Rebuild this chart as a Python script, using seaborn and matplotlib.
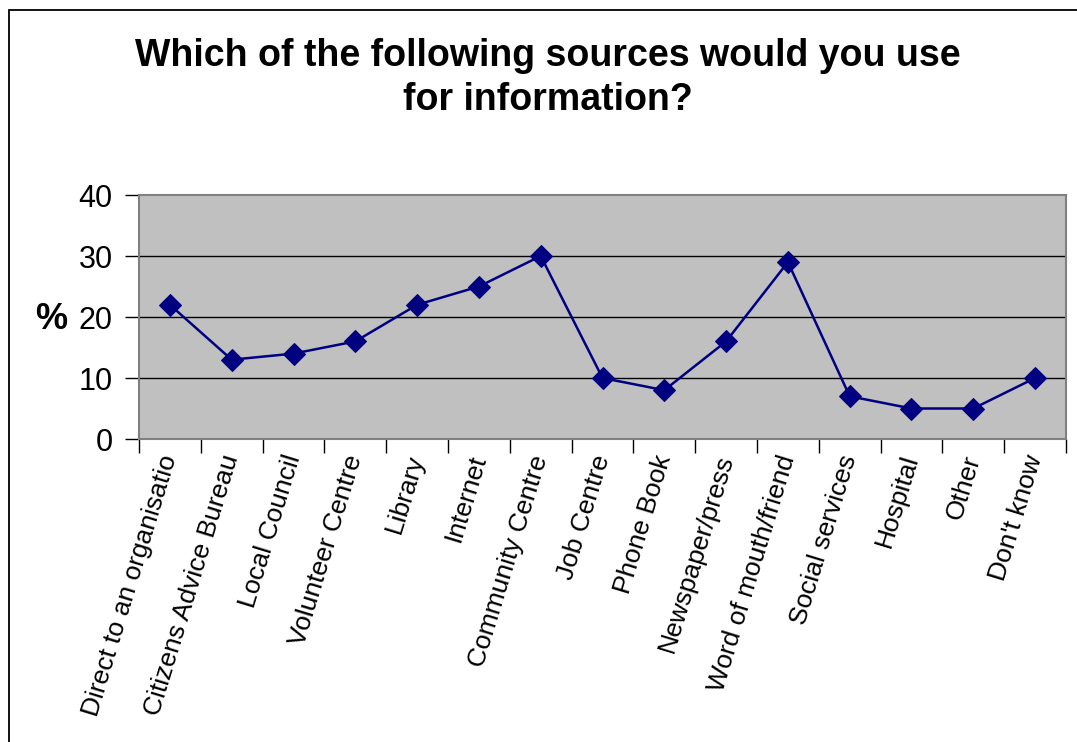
import matplotlib
matplotlib.use("Agg")
import matplotlib.pyplot as plt
import seaborn as sns
import pandas as pd
from matplotlib.patches import Rectangle
from matplotlib.ticker import FixedLocator, NullFormatter

categories = ["Direct to an organisatio", "Citizens Advice Bureau", "Local Council",
              "Volunteer Centre", "Library", "Internet", "Community Centre",
              "Job Centre", "Phone Book", "Newspaper/press", "Word of mouth/friend",
              "Social services", "Hospital", "Other", "Don't know"]
values = [22, 13, 14, 16, 22, 25, 30, 10, 8, 16, 29, 7, 5, 5, 10]
yticks = [0, 10, 20, 30, 40]
title = "Which of the following sources would you use\nfor information?"

sns.set_theme(style="white")
plt.rcParams['font.family'] = ['Liberation Sans', 'DejaVu Sans']
plt.rcParams['text.color'] = 'black'
plt.rcParams['xtick.color'] = 'black'
plt.rcParams['ytick.color'] = 'black'
plt.rcParams['axes.labelcolor'] = 'black'

fig = plt.figure(figsize=(10.77, 7.42), dpi=100)
ax = fig.add_axes([139/1077, 1-439/742, (1066-139)/1077, (439-195)/742])

df = pd.DataFrame({"pos": range(len(categories)), "value": values})
sns.lineplot(data=df, x="pos", y="value", ax=ax, color="#000080", marker="D",
             markersize=11, markeredgecolor="#000080", linewidth=1.8, sort=False)

ax.set_facecolor("#C0C0C0")
ax.set_xlim(-0.5, len(categories) - 0.5)
ax.set_ylim(0, 40)
ax.set_yticks(yticks)
ax.set_yticklabels([str(v) for v in yticks], fontsize=22)
for y in yticks[1:-1]:
    ax.axhline(y, color="black", linewidth=1.0, zorder=0.5)

# category boundaries as major ticks, labels at centres as minor ticks
ax.xaxis.set_major_locator(FixedLocator([i - 0.5 for i in range(len(categories) + 1)]))
ax.xaxis.set_major_formatter(NullFormatter())
ax.set_xticks(range(len(categories)), minor=True)
ax.set_xticklabels(categories, minor=True, rotation=73, ha="right", va="center",
                   rotation_mode="anchor", fontsize=19)
ax.tick_params(axis="x", which="minor", length=0, pad=12)
ax.tick_params(axis="x", which="major", length=10, width=1, color="black", direction="out", bottom=True)
ax.tick_params(axis="y", length=10, width=1, color="black", direction="out", left=True, pad=9)
ax.set_xlabel("")
ax.set_ylabel("%", fontsize=26, fontweight="bold", rotation=0, va="center")
ax.yaxis.set_label_coords(-0.095, 0.49)

for s in ["top", "right", "left", "bottom"]:
    ax.spines[s].set_color("#808080")
    ax.spines[s].set_linewidth(1.5)

fig.text(548/1077, 1-78/742, title, ha="center", va="center", fontsize=27,
         fontweight="bold", linespacing=1.32)

fig.patches.append(Rectangle((9/1077, -0.05), 1.2, 1.05 - 10/742,
                             transform=fig.transFigure, fill=False,
                             edgecolor="black", linewidth=1.3))

fig.savefig("out.png", dpi=100)
